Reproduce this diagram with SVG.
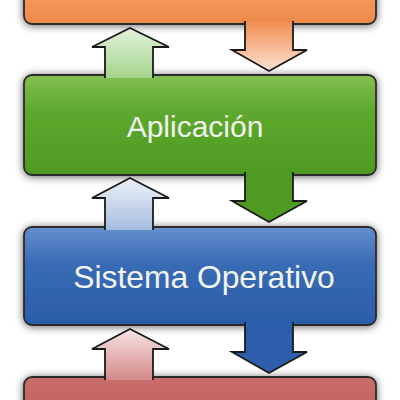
<svg xmlns="http://www.w3.org/2000/svg" width="400" height="400" viewBox="0 0 400 400">
<defs>
<style>
.box{stroke:#2a2a2a;stroke-width:1.8;filter:url(#sh)}
.arr{stroke:#1a1a1a;stroke-width:1.8;stroke-linejoin:miter}
.lbl{font-family:"Liberation Sans",Arial,sans-serif;font-size:30px;fill:#f2f4ef;text-anchor:middle}
</style>
<filter id="sh" x="-10%" y="-30%" width="120%" height="160%">
<feGaussianBlur in="SourceAlpha" stdDeviation="4"/>
<feOffset dx="0" dy="1" result="b"/>
<feComponentTransfer><feFuncA type="linear" slope="0.6"/></feComponentTransfer>
<feMerge><feMergeNode/><feMergeNode in="SourceGraphic"/></feMerge>
</filter>
<linearGradient id="gOr" x1="0" y1="0" x2="0" y2="1"><stop offset="0" stop-color="#f5a46a"/><stop offset="1" stop-color="#ef8848"/></linearGradient>
<linearGradient id="gGr" x1="0" y1="0" x2="0" y2="1"><stop offset="0" stop-color="#82c052"/><stop offset="0.35" stop-color="#5ea92e"/><stop offset="1" stop-color="#4e9a22"/></linearGradient>
<linearGradient id="gBl" x1="0" y1="0" x2="0" y2="1"><stop offset="0" stop-color="#6690cc"/><stop offset="0.35" stop-color="#3a6cb6"/><stop offset="1" stop-color="#2a5ca8"/></linearGradient>
<linearGradient id="gRd" x1="0" y1="0" x2="0" y2="1"><stop offset="0" stop-color="#c96e6c"/><stop offset="1" stop-color="#bb5a58"/></linearGradient>
<linearGradient id="aOr" x1="0" y1="0" x2="0" y2="1"><stop offset="0" stop-color="#f08c50"/><stop offset="1" stop-color="#fde2d2"/></linearGradient>
<linearGradient id="aGrUp" x1="0" y1="0" x2="0" y2="1"><stop offset="0" stop-color="#e2f2da"/><stop offset="1" stop-color="#a4d48c"/></linearGradient>
<linearGradient id="aBlUp" x1="0" y1="0" x2="0" y2="1"><stop offset="0" stop-color="#eef2fa"/><stop offset="1" stop-color="#a4bcde"/></linearGradient>
<linearGradient id="aRdUp" x1="0" y1="0" x2="0" y2="1"><stop offset="0" stop-color="#f6e4e4"/><stop offset="1" stop-color="#d48a88"/></linearGradient>
</defs>
<rect width="400" height="400" fill="#ffffff"/>

<g id="node-orange">
<rect class="box" x="24" y="-20" width="352" height="44" rx="8" fill="url(#gOr)"/>
</g>
<g id="node-aplicacion">
<rect class="box" x="24" y="75" width="352" height="100" rx="8" fill="url(#gGr)"/>
<text class="lbl" x="195" y="137">Aplicación</text>
</g>
<g id="node-sistema">
<rect class="box" x="24" y="227" width="352" height="98" rx="8" fill="url(#gBl)"/>
<text class="lbl" x="204" y="288" style="font-size:31.8px">Sistema Operativo</text>
</g>
<g id="node-red">
<rect class="box" x="24" y="377" width="352" height="60" rx="8" fill="url(#gRd)"/>
</g>

<g id="connectors">
<path class="arr" d="M245,21 V50 H232 L269,71 L307,50 H293 V21" fill="url(#aOr)"/>
<path class="arr" d="M245,172 V201 H232 L269,222 L307,201 H293 V172" fill="#4e9a22"/>
<path class="arr" d="M245,322 V352 H232 L269,373 L307,352 H293 V322" fill="#2c5eab"/>
<path class="arr" d="M105,78 V47 H92 L130,28 L169,47 H153 V78" fill="url(#aGrUp)"/>
<path class="arr" d="M105,230 V198 H92 L130,178 L169,198 H153 V230" fill="url(#aBlUp)"/>
<path class="arr" d="M105,380 V349 H92 L130,329 L169,349 H153 V380" fill="url(#aRdUp)"/>
</g>
</svg>
